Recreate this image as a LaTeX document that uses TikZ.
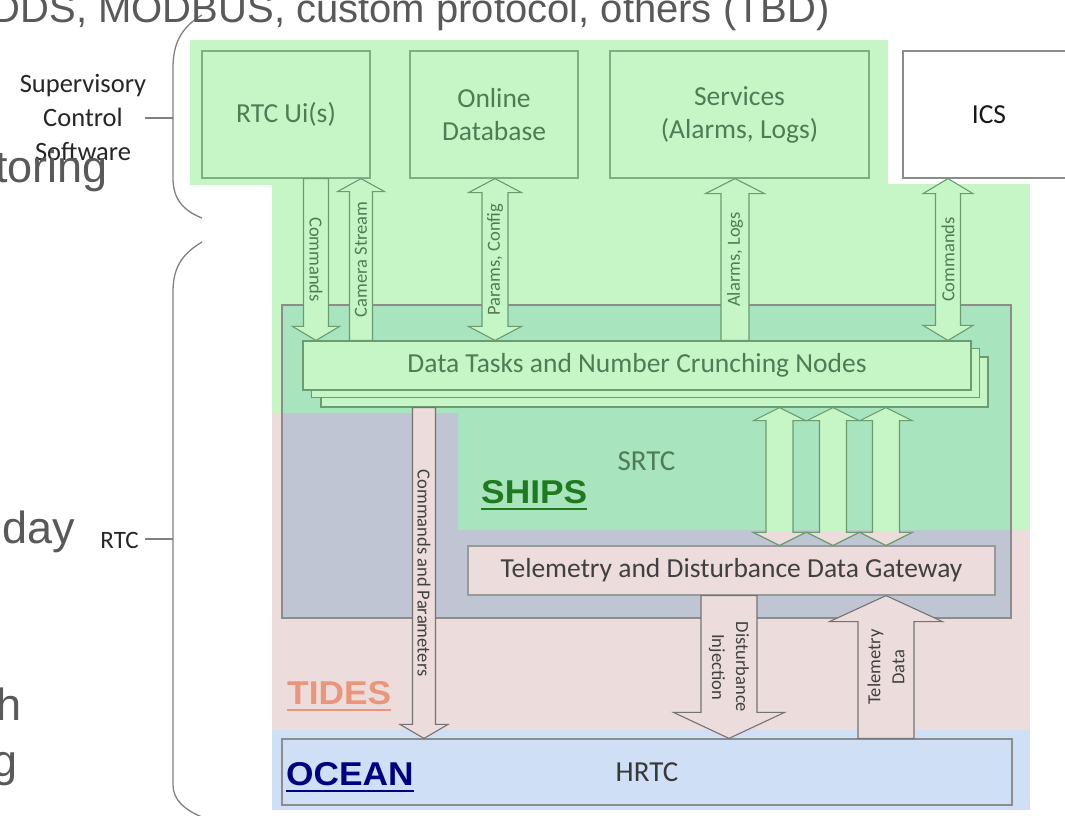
\documentclass[tikz,border=0pt]{standalone}
\usepackage{fontspec}
\setmainfont{Carlito}
\newfontfamily\arialfont{Liberation Sans}
\usetikzlibrary{calc}

\definecolor{lightgreen}{HTML}{C6F5C6}
\definecolor{shipsgreen}{HTML}{A8E4BE}
\definecolor{grayblue}{HTML}{BFC5D3}
\definecolor{tidespink}{HTML}{ECDCDB}
\definecolor{oceanblue}{HTML}{CFDFF6}
\definecolor{boxedge}{HTML}{7FAE84}
\definecolor{boxtext}{HTML}{4E7D55}
\definecolor{arrowedge}{HTML}{6B9B70}
\definecolor{slidegray}{HTML}{595959}
\definecolor{shipsdark}{HTML}{1F7A1F}
\definecolor{tidessalmon}{HTML}{E9967A}
\definecolor{oceannavy}{HTML}{000080}

\newcommand\setfs[2]{\fontsize{#1}{#2}\selectfont}

% vertical block arrow with one head: style, x, tail anchor, tip anchor,
% half shaft width, half head width, signed head length (towards the tail)
\newcommand\singlearrow[7]{%
  \coordinate (ta) at (#3 -| #2,0);
  \coordinate (tp) at (#4 -| #2,0);
  \draw[#1] ($(ta)+(-#5,0)$) -- ($(tp)+(-#5,#7)$) -- ($(tp)+(-#6,#7)$) -- (tp)
    -- ($(tp)+(#6,#7)$) -- ($(tp)+(#5,#7)$) -- ($(ta)+(#5,0)$) -- cycle;}

% vertical block arrow with two heads: style, x, lower tip anchor, upper tip anchor,
% half shaft width, half head width, head length
\newcommand\doublearrow[7]{%
  \coordinate (ta) at (#3 -| #2,0);
  \coordinate (tp) at (#4 -| #2,0);
  \draw[#1] (ta) -- ($(ta)+(-#6,-#7)$) -- ($(ta)+(-#5,-#7)$) -- ($(tp)+(-#5,#7)$)
    -- ($(tp)+(-#6,#7)$) -- (tp) -- ($(tp)+(#6,#7)$) -- ($(tp)+(#5,#7)$)
    -- ($(ta)+(#5,-#7)$) -- ($(ta)+(#6,-#7)$) -- cycle;}

\begin{document}
\begin{tikzpicture}[x=1pt,y=-1pt,
  topbox/.style={draw=boxedge, line width=1.2pt, minimum height=127pt, inner sep=0pt,
    text=boxtext, font=\setfs{27.5}{33}, align=center},
  dtbox/.style={draw=arrowedge, line width=1.2pt, fill=lightgreen, minimum width=668pt,
    minimum height=49pt, inner sep=0pt, text=boxtext, font=\setfs{27.5}{33}},
  greenarrow/.style={draw=arrowedge, line width=1.1pt, fill=lightgreen},
  pinkarrow/.style={draw=black!55, line width=1.1pt, fill=tidespink},
  arrlbl/.style={inner sep=0pt, font=\setfs{18.5}{23}, text=boxtext, align=center},
  darklbl/.style={inner sep=0pt, font=\setfs{18.5}{24}, text=black!75, align=center},
  layerlbl/.style={inner sep=0pt, anchor=base west, font=\arialfont\bfseries\setfs{33}{33}, xscale=1.07},
  slide/.style={inner sep=0pt, anchor=base east, text=slidegray, font=\arialfont\setfs{45}{45}},
  brace/.style={draw=black!50, line width=1.3pt},
  sidelbl/.style={inner sep=0pt, text=black!85, font=\setfs{26.5}{34}, align=center}]

\useasboundingbox (0,0) rectangle (1065,815);
\clip (0,0) rectangle (1065,815);
\fill[white] (0,0) rectangle (1065,815);

% ---- layer backgrounds ----
\fill[tidespink] (272,413) rectangle (1030,730);
\fill[lightgreen] (190,40) rectangle (888,185);
\fill[lightgreen] (272,184) rectangle (1030,413);
\fill[lightgreen] (1011,413) rectangle (1030,530);
\fill[oceanblue] (272,730) rectangle (1030,810);

% SRTC area: grey-blue base with the SHIPS green on top
\fill[grayblue] (282,305) rectangle (1011,618);
\fill[shipsgreen] (282,305) -- (1011,305) -- (1011,530) -- (458,530) -- (458,413) -- (282,413) -- cycle;
\node[draw=black!45, line width=1.2pt, minimum width=729pt, minimum height=313pt, inner sep=0pt,
  text=boxtext, font=\setfs{29}{33}] (srtc) at (646.5,461.5) {SRTC};

% ---- supervisory boxes ----
\node[topbox, minimum width=168pt] (rtc) at (286,114.5) {RTC Ui(s)};
\node[topbox, minimum width=168pt] (odb) at (494,114.5) {Online\\Database};
\node[topbox, minimum width=259pt] (svc) at (739.5,114.5) {Services\\(Alarms, Logs)};
\node[draw=black!45, line width=1.2pt, fill=white, minimum width=172pt, minimum height=127pt,
  inner sep=0pt, text=black!90, font=\setfs{27.5}{33}] (ics) at (989,114.5) {ICS};

% ---- data tasks (stacked) ----
\node[dtbox, minimum width=667pt, minimum height=50pt] (dt3) at (654.5,382) {};
\node[dtbox] (dt2) at (645.5,373) {};
\node[dtbox] (dt) at (637,365.5) {Data Tasks and Number Crunching Nodes};

% ---- gateway and HRTC ----
\node[draw=black!40, line width=1.2pt, fill=tidespink, minimum width=527pt, minimum height=49pt,
  inner sep=0pt, text=black!75, font=\setfs{27.5}{33}] (gw) at (731.5,570.5)
  {Telemetry and Disturbance Data Gateway};
\node[draw=black!45, line width=1.2pt, minimum width=730pt, minimum height=66pt, inner sep=0pt,
  text=black!78, font=\setfs{29}{33}] (hrtc) at (647,772) {HRTC};

% ---- arrows between the supervisory boxes and the data tasks ----
\singlearrow{greenarrow}{316}{rtc.south}{dt.north}{12.5}{23.5}{-14}
\node[arrlbl, rotate=-90] at ($(ta)!0.5!(tp)$) {Commands};
\singlearrow{greenarrow}{361}{dt.north}{rtc.south}{11.5}{23.5}{13}
\node[arrlbl, rotate=90] at ($(ta)!0.5!(tp)$) {Camera Stream};
\doublearrow{greenarrow}{495}{dt.north}{odb.south}{13}{26.5}{14}
\node[arrlbl, rotate=90] at ($(ta)!0.5!(tp)$) {Params, Config};
\singlearrow{greenarrow}{735}{dt.north}{svc.south}{14}{29.5}{15}
\node[arrlbl, rotate=90] at ($(ta)!0.5!(tp)$) {Alarms, Logs};
\doublearrow{greenarrow}{948}{dt.north}{ics.south}{12.5}{25}{15}
\node[arrlbl, rotate=90] at ($(ta)!0.5!(tp)$) {Commands};

% ---- data tasks <-> gateway ----
\foreach \ax in {779.5,833,886}{
  \doublearrow{greenarrow}{\ax}{gw.north}{dt3.south}{13.5}{26}{13}
}
\begin{scope}
  \clip (740,531) rectangle (925,552);
  \foreach \ax in {779.5,833,886}{
    \doublearrow{greenarrow, fill=tidespink}{\ax}{gw.north}{dt3.south}{13.5}{26}{13}
  }
\end{scope}

% ---- arrows down to the HRTC ----
\singlearrow{pinkarrow}{424}{dt3.south}{hrtc.north}{11.5}{24}{-14}
\node[darklbl, rotate=-90] at ($(ta)!0.5!(tp)$) {Commands and Parameters};
\singlearrow{pinkarrow}{729}{gw.south}{hrtc.north}{28}{55.5}{-26}
\node[darklbl, rotate=-90] at ($(ta)!0.5!(tp)$) {Disturbance\\Injection};
\singlearrow{pinkarrow}{886}{hrtc.north}{gw.south}{28}{56.5}{26}
\node[darklbl, rotate=90] at ($(ta)!0.5!(tp)$) {Telemetry\\Data};

% ---- layer names ----
\node[layerlbl, text=shipsdark] (ships) at (481,503) {SHIPS};
\draw[shipsdark, line width=2.5pt] ($(ships.base west)+(0,6)$) -- ($(ships.base east)+(0,6)$);
\node[layerlbl, text=tidessalmon] (tides) at (287,704) {TIDES};
\draw[tidessalmon, line width=2.5pt] ($(tides.base west)+(0,6)$) -- ($(tides.base east)+(0,6)$);
\node[layerlbl, text=oceannavy] (ocean) at (286,785) {OCEAN};
\draw[oceannavy, line width=2.5pt] ($(ocean.base west)+(0,6)$) -- ($(ocean.base east)+(0,6)$);

% ---- braces on the left ----
\draw[brace] (202,15) .. controls (180,28) and (173,45) .. (173,68) -- (173,178)
  .. controls (173,198) and (182,210) .. (202,218);
\draw[brace] (202,242) .. controls (180,255) and (173,270) .. (173,292) -- (173,785)
  .. controls (173,800) and (185,810) .. (202,817);
\node[sidelbl] (sup) at (83,117) {Supervisory\\Control\\Software};
\coordinate (supend) at (145,118);
\draw[brace, line width=1.1pt] (supend) -- (173,118);
\node[sidelbl, font=\setfs{25}{30}, anchor=east] (rtclbl) at (139,540) {RTC};
\coordinate (rtcend) at (145,539);
\draw[brace, line width=1.1pt] (rtcend) -- (173,539);

% ---- slide text running behind the diagram ----
\node[slide, font=\arialfont\setfs{40}{40}] (proto) at (830,22) {DDS, MODBUS, custom protocol, others (TBD)};
\node[slide] (t1) at (108,182) {toring};
\node[slide] (t2) at (75,543) {day};
\node[slide] (t3) at (22,720) {h};
\node[slide] (t4) at (18,776) {g};
\end{tikzpicture}
\end{document}
